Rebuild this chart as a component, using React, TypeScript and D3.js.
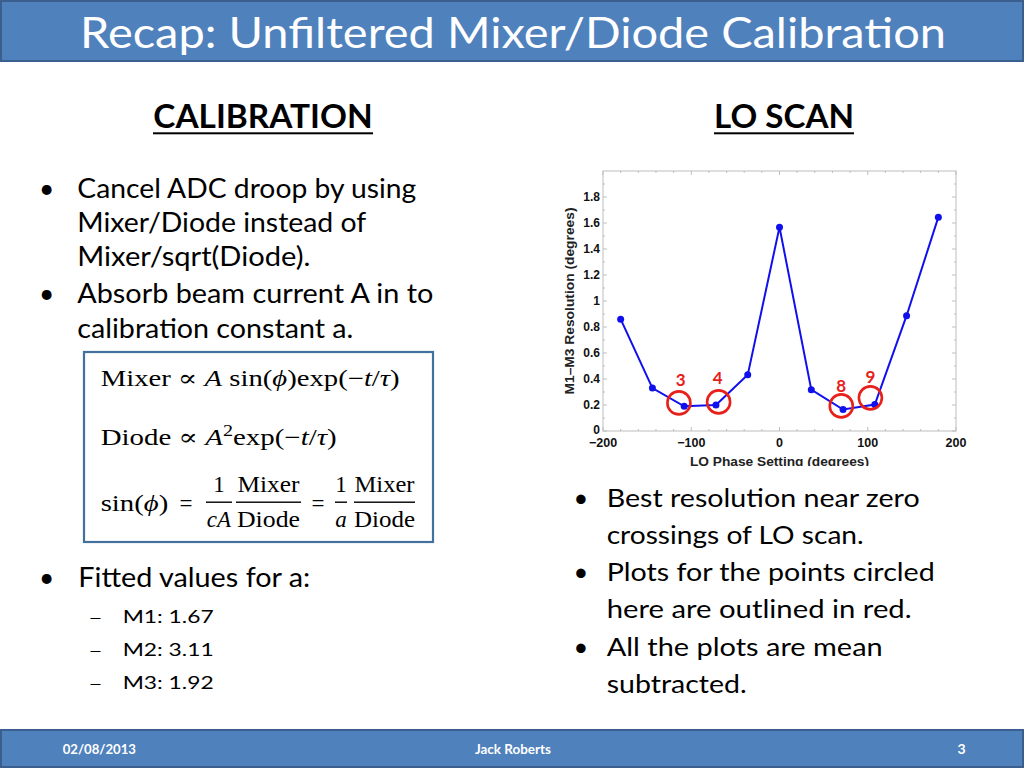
import React from "react";
import * as d3 from "d3";

// ---- chart data ----
const loPhase = [-180, -144, -108, -72, -36, 0, 36, 72, 108, 144, 180];
const resolution = [0.86, 0.33, 0.19, 0.2, 0.432, 1.568, 0.318, 0.165, 0.203, 0.887, 1.645];

const xTicks = [-200, -100, 0, 100, 200];
const xTickLabels = ["\u2212200", "\u2212100", "0", "100", "200"];
const yTicks = [0, 0.2, 0.4, 0.6, 0.8, 1, 1.2, 1.4, 1.6, 1.8];
const yTickLabels = ["0", "0.2", "0.4", "0.6", "0.8", "1", "1.2", "1.4", "1.6", "1.8"];
const yMinor = [0.1, 0.3, 0.5, 0.7, 0.9, 1.1, 1.3, 1.5, 1.7, 1.9];
const xMinor = [-180, -160, -140, -120, -80, -60, -40, -20, 20, 40, 60, 80, 120, 140, 160, 180];

// annotation rings (data units)
const ringLabels = ["3", "4", "8", "9"];
const ringX = [-114, -69, 70, 103];
const ringY = [0.216, 0.224, 0.193, 0.255];
const labelX = [-112, -70, 70, 103];
const labelY = [0.392, 0.405, 0.348, 0.413];

// ---- slide text ----
const leftBullets = [
  ["Cancel ADC droop by using", "Mixer/Diode instead of", "Mixer/sqrt(Diode)."],
  ["Absorb beam current A in to", "calibration constant a."],
];
const leftLineWidths = [339, 289, 233, 356, 276];
const fittedItems = ["M1: 1.67", "M2: 3.11", "M3: 1.92"];
const rightBullets = [
  ["Best resolution near zero", "crossings of LO scan."],
  ["Plots for the points circled", "here are outlined in red."],
  ["All the plots are mean", "subtracted."],
];
const rightLineWidths = [313, 257, 328, 305, 276, 140];

const SANS = "Lato, 'Open Sans', sans-serif";
const SERIF = "'Liberation Serif', 'DejaVu Serif', serif";
const HELV = "'Liberation Sans', Arial, sans-serif";
const BLUE = "#4F81BD";
const BORDER = "#3A5F8E";

export default function App() {
  const x = d3.scaleLinear().domain([-200, 200]).range([603, 956]);
  const y = d3.scaleLinear().domain([0, 2]).range([431, 171]);
  const line = d3
    .line<number>()
    .x((_, i) => x(loPhase[i]))
    .y((d) => y(d));
  const axisCol = "#bdbdbd";
  const [x0, x1] = x.range();
  const [y0, y1] = y.range();

  const leftBaselines = [198.3, 232.3, 266, 302.7, 337.5];
  const rightBaselines = [506.7, 543.5, 580.7, 618, 655.5, 692.5];
  let li = 0;
  let ri = 0;

  return (
    <div style={{ position: "absolute", left: 0, top: 0 }}>
      <svg width={1024} height={768} style={{ display: "block", background: "#fff" }}>
        <defs>
          <clipPath id="figclip">
            <rect x={540} y={160} width={440} height={306} />
          </clipPath>
        </defs>
        {/* title bar */}
        <rect x={1} y={1} width={1022} height={60} fill={BLUE} stroke={BORDER} strokeWidth={2} />
        <text x={80} y={48.3} fill="#fff" fontFamily={SANS} fontSize={43} textLength={866} lengthAdjust="spacingAndGlyphs">
          Recap: Unfiltered Mixer/Diode Calibration
        </text>

        {/* headers */}
        <text x={153.3} y={127.7} fontFamily={SANS} fontWeight="bold" fontSize={31.5} textLength={219.4} lengthAdjust="spacingAndGlyphs" fill="#000">
          CALIBRATION
        </text>
        <rect x={153} y={132.3} width={220} height={2} fill="#000" />
        <text x={714} y={127.7} fontFamily={SANS} fontWeight="bold" fontSize={31.5} textLength={140} lengthAdjust="spacingAndGlyphs" fill="#000">
          LO SCAN
        </text>
        <rect x={714} y={132.3} width={140} height={2} fill="#000" />

        {/* left bullets */}
        {leftBullets.map((b, bi) =>
          b.map((t, k) => {
            const idx = li++;
            return (
              <g key={`lb${bi}-${k}`}>
                {k === 0 && (
                  <text x={39} y={leftBaselines[idx]} fontFamily={SANS} fontSize={26.4} fill="#000">
                    •
                  </text>
                )}
                <text x={77.3} y={leftBaselines[idx]} fontFamily={SANS} fontSize={26.4} fill="#000" textLength={leftLineWidths[idx]} lengthAdjust="spacingAndGlyphs">
                  {t}
                </text>
              </g>
            );
          })
        )}

        {/* formula box */}
        <rect x={84} y={352} width={349} height={190} fill="#fff" stroke="#41719C" strokeWidth={2.2} />
        <text x={100.7} y={385.7} fontFamily={SERIF} fontSize={23} fill="#000" textLength={299} lengthAdjust="spacingAndGlyphs">
          Mixer ∝ <tspan fontStyle="italic">A</tspan> sin(<tspan fontStyle="italic">ϕ</tspan>)exp(−<tspan fontStyle="italic">t</tspan>/<tspan fontStyle="italic">τ</tspan>)
        </text>
        <text x={100.7} y={445} fontFamily={SERIF} fontSize={23} fill="#000" textLength={236} lengthAdjust="spacingAndGlyphs">
          Diode ∝ <tspan fontStyle="italic">A</tspan>
          <tspan fontSize={16} dy={-9}>2</tspan>
          <tspan dy={9}>exp(−</tspan>
          <tspan fontStyle="italic">t</tspan>/<tspan fontStyle="italic">τ</tspan>)
        </text>
        <text x={100.7} y={510.7} fontFamily={SERIF} fontSize={23} fill="#000" textLength={67.6} lengthAdjust="spacingAndGlyphs">
          sin(<tspan fontStyle="italic">ϕ</tspan>)
        </text>
        <text x={186} y={510.7} fontFamily={SERIF} fontSize={23} fill="#000" textAnchor="middle">=</text>
        <text x={318} y={510.7} fontFamily={SERIF} fontSize={23} fill="#000" textAnchor="middle">=</text>
        <text x={219} y={491.7} fontFamily={SERIF} fontSize={23} textAnchor="middle">1</text>
        <rect x={206} y={501.5} width={26} height={1.4} fill="#000" />
        <text x={219} y={526.7} fontFamily={SERIF} fontSize={23} fontStyle="italic" textAnchor="middle">cA</text>
        <text x={268.5} y={491.7} fontFamily={SERIF} fontSize={23} textAnchor="middle" textLength={62} lengthAdjust="spacingAndGlyphs">Mixer</text>
        <rect x={236} y={501.5} width={65} height={1.4} fill="#000" />
        <text x={268.5} y={526.7} fontFamily={SERIF} fontSize={23} textAnchor="middle" textLength={63} lengthAdjust="spacingAndGlyphs">Diode</text>
        <text x={341} y={491.7} fontFamily={SERIF} fontSize={23} textAnchor="middle">1</text>
        <rect x={335} y={501.5} width={12} height={1.4} fill="#000" />
        <text x={341} y={526.7} fontFamily={SERIF} fontSize={23} fontStyle="italic" textAnchor="middle">a</text>
        <text x={384.5} y={491.7} fontFamily={SERIF} fontSize={23} textAnchor="middle" textLength={60} lengthAdjust="spacingAndGlyphs">Mixer</text>
        <rect x={354} y={501.5} width={61} height={1.4} fill="#000" />
        <text x={384.5} y={526.7} fontFamily={SERIF} fontSize={23} textAnchor="middle" textLength={61} lengthAdjust="spacingAndGlyphs">Diode</text>

        {/* fitted values */}
        <text x={39} y={586.7} fontFamily={SANS} fontSize={26.4} fill="#000">•</text>
        <text x={78.3} y={586.7} fontFamily={SANS} fontSize={26.4} fill="#000" textLength={232} lengthAdjust="spacingAndGlyphs">
          Fitted values for a:
        </text>
        {fittedItems.map((t, i) => (
          <g key={t}>
            <text x={89.5} y={622.7 + i * 33.3} fontFamily={SANS} fontSize={15} fill="#000">—</text>
            <text x={122.7} y={622.7 + i * 33.3} fontFamily={SANS} fontSize={17.6} fill="#000" textLength={91} lengthAdjust="spacingAndGlyphs">{t}</text>
          </g>
        ))}

        {/* right bullets */}
        {rightBullets.map((b, bi) =>
          b.map((t, k) => {
            const idx = ri++;
            return (
              <g key={`rb${bi}-${k}`}>
                {k === 0 && (
                  <text x={573.5} y={rightBaselines[idx]} fontFamily={SANS} fontSize={25.5} fill="#000">•</text>
                )}
                <text x={606.7} y={rightBaselines[idx]} fontFamily={SANS} fontSize={25.5} fill="#000" textLength={rightLineWidths[idx]} lengthAdjust="spacingAndGlyphs">
                  {t}
                </text>
              </g>
            );
          })
        )}

        {/* chart figure */}
        <g clipPath="url(#figclip)">
          <rect x={540} y={160} width={440} height={306} fill="#fff" />
          <rect x={x0} y={y1} width={x1 - x0} height={y0 - y1} fill="#fff" stroke={axisCol} strokeWidth={1} />
          {yTicks.map((t) => (
            <g key={`yt${t}`}>
              <line x1={x0} x2={x0 + 4} y1={y(t)} y2={y(t)} stroke={axisCol} />
              <line x1={x1} x2={x1 - 4} y1={y(t)} y2={y(t)} stroke={axisCol} />
            </g>
          ))}
          {yMinor.map((t) => (
            <g key={`ym${t}`}>
              <line x1={x0} x2={x0 + 2} y1={y(t)} y2={y(t)} stroke={axisCol} />
              <line x1={x1} x2={x1 - 2} y1={y(t)} y2={y(t)} stroke={axisCol} />
            </g>
          ))}
          {xTicks.map((t) => (
            <g key={`xt${t}`}>
              <line x1={x(t)} x2={x(t)} y1={y0} y2={y0 - 4} stroke={axisCol} />
              <line x1={x(t)} x2={x(t)} y1={y1} y2={y1 + 4} stroke={axisCol} />
            </g>
          ))}
          {xMinor.map((t) => (
            <g key={`xm${t}`}>
              <line x1={x(t)} x2={x(t)} y1={y0} y2={y0 - 2} stroke={axisCol} />
              <line x1={x(t)} x2={x(t)} y1={y1} y2={y1 + 2} stroke={axisCol} />
            </g>
          ))}
          {yTicks.map((t, i) => (
            <text key={`yl${t}`} x={x0 - 3} y={y(t) - (t === 0 ? 1.5 : 0)} dy="0.36em" textAnchor="end" fontFamily={HELV} fontWeight="bold" fontSize={12} fill="#111">
              {yTickLabels[i]}
            </text>
          ))}
          {xTicks.map((t, i) => (
            <text key={`xl${t}`} x={x(t)} y={447} textAnchor="middle" fontFamily={HELV} fontWeight="bold" fontSize={12.5} fill="#111">
              {xTickLabels[i]}
            </text>
          ))}
          <text transform={`translate(574,${(y0 + y1) / 2}) rotate(-90)`} textAnchor="middle" fontFamily={HELV} fontWeight="bold" fontSize={12} fill="#222" textLength={187} lengthAdjust="spacingAndGlyphs">
            M1–M3 Resolution (degrees)
          </text>
          <text x={(x0 + x1) / 2} y={465.5} textAnchor="middle" fontFamily={HELV} fontWeight="bold" fontSize={12} fill="#222" textLength={179} lengthAdjust="spacingAndGlyphs">
            LO Phase Setting (degrees)
          </text>
          <path d={line(resolution) || ""} fill="none" stroke="#1010ee" strokeWidth={2} />
          {resolution.map((v, i) => (
            <circle key={`p${i}`} cx={x(loPhase[i])} cy={y(v)} r={3.5} fill="#1010ee" />
          ))}
          {ringLabels.map((lab, i) => (
            <g key={`ring${lab}`}>
              <circle cx={x(ringX[i])} cy={y(ringY[i])} r={11.5} fill="none" stroke="#e8201a" strokeWidth={2.6} />
              <text x={x(labelX[i])} y={y(labelY[i])} dy="0.36em" textAnchor="middle" fontFamily={SANS} fontWeight="bold" fontSize={17} fill="#e8201a">
                {lab}
              </text>
            </g>
          ))}
        </g>

        {/* footer */}
        <rect x={1} y={730} width={1022} height={37} fill={BLUE} stroke={BORDER} strokeWidth={2} />
        <text x={62.7} y={754.3} fill="#fff" fontFamily={SANS} fontWeight="bold" fontSize={14} textLength={73.3} lengthAdjust="spacingAndGlyphs">
          02/08/2013
        </text>
        <text x={513} y={754.3} fill="#fff" fontFamily={SANS} fontWeight="bold" fontSize={14} textAnchor="middle" textLength={76} lengthAdjust="spacingAndGlyphs">
          Jack Roberts
        </text>
        <text x={961.5} y={754.3} fill="#fff" fontFamily={SANS} fontWeight="bold" fontSize={14} textAnchor="middle">
          3
        </text>
      </svg>
    </div>
  );
}
